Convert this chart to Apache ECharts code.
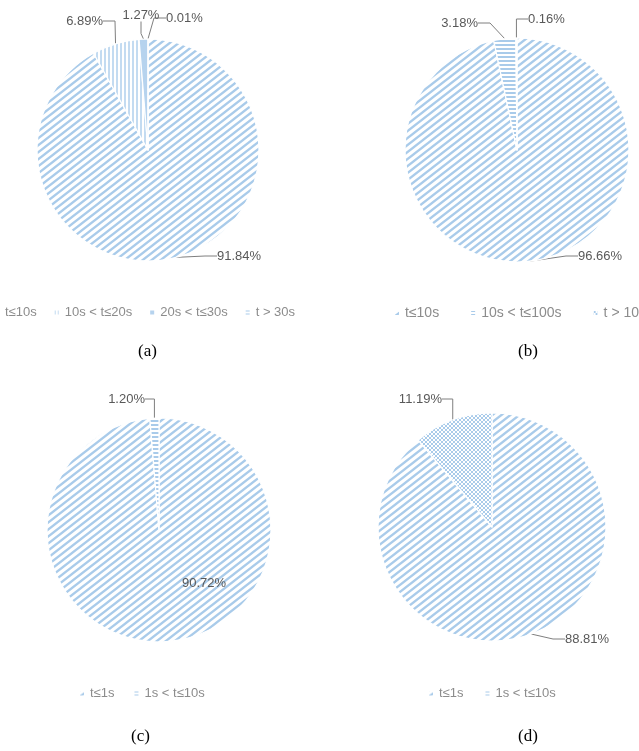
<!DOCTYPE html>
<html><head><meta charset="utf-8">
<script src="https://cdn.jsdelivr.net/npm/echarts@6/dist/echarts.min.js"></script>
<style>html,body{margin:0;padding:0;background:#fff}#c{width:639px;height:751px}</style>
</head><body><div id="c"></div>
<script>
// ---- data ----
const catsA = ['t≤10s', '10s < t≤20s', '20s < t≤30s', 't > 30s'];
const valsA = [91.84, 6.89, 1.27, 0.01];
const catsB = ['t≤10s', '10s < t≤100s', 't > 100s'];
const valsB = [96.66, 3.18, 0.16];
const catsC = ['t≤1s', '1s < t≤10s'];
const valsC = [90.72, 1.20];
const catsD = ['t≤1s', '1s < t≤10s'];
const valsD = [88.81, 11.19];
const captions = ['(a)', '(b)', '(c)', '(d)'];

// ---- label placement (style only): [x, y, align] per slice ----
const labelPosA = [[217, 256, 'left'], [103, 21, 'right'], [141, 15, 'center'], [166, 18, 'left']];
const labelPosB = [[578, 256, 'left'], [478, 23, 'right'], [528, 19, 'left']];
const labelPosC = [[204, 583, 'center'], [145, 399, 'right']];
const labelPosD = [[565, 639, 'left'], [442, 399, 'right']];

// ---- fill patterns ----
const BLUE = '#a9cbea';
function pat(kind) {
  const c = document.createElement('canvas');
  let w = 8, h = 8;
  if (kind === 'diag') { w = 9; h = 7; }
  if (kind === 'horiz') { w = 4; h = 4; }
  if (kind === 'vert') { w = 4; h = 4; }
  if (kind === 'grid') { w = 4; h = 4; }
  if (kind === 'solid') { w = 2; h = 2; }
  c.width = w; c.height = h;
  const g = c.getContext('2d');
  g.fillStyle = '#fff'; g.fillRect(0, 0, w, h);
  g.strokeStyle = BLUE; g.fillStyle = BLUE;
  if (kind === 'diag') {
    g.lineWidth = 2.3;
    for (const s of [-w, 0, w]) {
      g.beginPath(); g.moveTo(s - w, 2 * h); g.lineTo(s + 2 * w, -h); g.stroke();
    }
  } else if (kind === 'horiz') {
    g.fillRect(0, 0, w, 2);
  } else if (kind === 'vert') {
    g.fillStyle = '#c3dbf1'; g.fillRect(0, 0, 2, h);
  } else if (kind === 'grid') {
    g.lineWidth = 1;
    g.beginPath(); g.moveTo(0, h); g.lineTo(w, 0); g.stroke();
    g.beginPath(); g.moveTo(0, 0); g.lineTo(w, h); g.stroke();
  } else if (kind === 'solid') {
    g.fillStyle = '#b6d3ee'; g.fillRect(0, 0, w, h);
  }
  return { image: c, repeat: 'repeat' };
}
const P = { diag: pat('diag'), horiz: pat('horiz'), vert: pat('vert'), grid: pat('grid'), solid: pat('solid') };

function pieSeries(name, cats, vals, center, radius, fills, pos, inside) {
  return {
    type: 'pie', name: name, center: center, radius: radius,
    startAngle: 90, clockwise: true, avoidLabelOverlap: false,
    data: cats.map((n, i) => {
      const d = { name: n, value: vals[i], itemStyle: { color: fills[i] } };
      if (inside && inside.indexOf(i) >= 0) {
        d.label = { position: 'inside' };
        d.labelLine = { show: false };
      }
      return d;
    }),
    itemStyle: { borderColor: '#fff', borderWidth: 1.2 },
    label: { formatter: p => p.value.toFixed(2) + '%', color: '#595959', fontSize: 13,
             fontFamily: 'Liberation Sans', overflow: 'none' },
    labelLine: { length: 6, length2: 12, lineStyle: { color: '#7f7f7f', width: 1 } },
    labelLayout: function (params) {
      const p = pos[params.dataIndex];
      return { x: p[0], y: p[1], align: p[2], verticalAlign: 'middle' };
    },
    emphasis: { disabled: true }
  };
}

const legendBase = {
  orient: 'horizontal', itemWidth: 6, itemHeight: 6, itemGap: 16, padding: 0, width: 900,
  icon: 'rect', selectedMode: false,
  textStyle: { color: '#8c8c8c', fontSize: 13, fontFamily: 'Liberation Sans' }
};
const capFont = '17px "Liberation Serif"';

const chart = echarts.init(document.getElementById('c'));
chart.setOption({
  backgroundColor: '#fff',
  animation: false,
  legend: [
    Object.assign({}, legendBase, { data: catsA, left: -7, top: 306 }),
    Object.assign({}, legendBase, { data: catsB, left: 393, top: 306, itemGap: 30,
      textStyle: { color: '#8c8c8c', fontSize: 14, fontFamily: 'Liberation Sans' } }),
    Object.assign({}, legendBase, { data: catsC, left: 78, top: 687, itemGap: 18 }),
    Object.assign({}, legendBase, { data: catsD, left: 427, top: 687, itemGap: 20 })
  ],
  graphic: [
    { type: 'text', left: 138, top: 343, style: { text: captions[0], font: capFont, fill: '#000' } },
    { type: 'text', left: 518, top: 343, style: { text: captions[1], font: capFont, fill: '#000' } },
    { type: 'text', left: 131, top: 728, style: { text: captions[2], font: capFont, fill: '#000' } },
    { type: 'text', left: 518, top: 728, style: { text: captions[3], font: capFont, fill: '#000' } }
  ],
  series: [
    pieSeries('a', catsA, valsA, [148, 150], 111, [P.diag, P.vert, P.solid, P.horiz], labelPosA),
    pieSeries('b', catsB, valsB, [517, 150], 112, [P.diag, P.horiz, P.grid], labelPosB),
    pieSeries('c', catsC, valsC, [159, 530], 112, [P.diag, P.horiz], labelPosC, [0]),
    pieSeries('d', catsD, valsD, [492, 527], 114, [P.diag, P.grid], labelPosD)
  ]
});
</script></body></html>
